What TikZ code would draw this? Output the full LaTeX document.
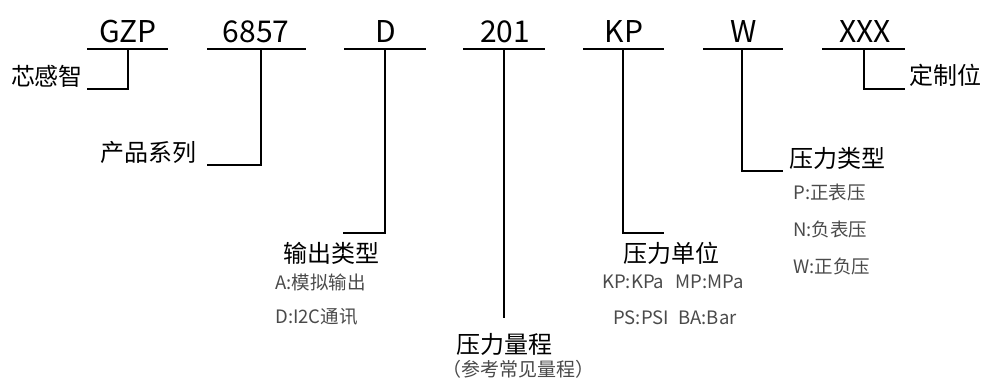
\documentclass[tikz,border=0pt]{standalone}
\usepackage{fontspec}
\setmainfont{Noto Sans CJK SC}
\definecolor{subgray}{HTML}{4A4A4A}
\begin{document}
\begin{tikzpicture}[x=1pt,y=-1pt,line width=2.6pt,
  code/.style={font=\fontsize{30}{30}\selectfont, anchor=base, inner sep=0pt},
  lab/.style={font=\fontsize{24}{24}\selectfont, inner sep=0pt},
  sub/.style={font=\fontsize{18.5}{18.5}\selectfont, text=subgray, inner sep=0pt, anchor=west},
  note/.style={font=\fontsize{19}{19}\selectfont, text=subgray, inner sep=0pt}]
\useasboundingbox (0,0) rectangle (986,378);
% codes
\node[code] (c1) at (128,42) {GZP};
\node[code] (c2) at (256,42) {6857};
\node[code] (c3) at (386,42) {D};
\node[code] (c4) at (505,42) {201};
\node[code] (c5) at (624,42) {KP};
\node[code] (c6) at (744,42) {W};
\node[code] (c7) at (865,42) {XXX};
% underline endpoints and junctions
\coordinate (u1a) at (87,49);  \coordinate (u1b) at (168,49); \coordinate (j1) at (128,49);
\coordinate (u2a) at (207,49); \coordinate (u2b) at (306,49); \coordinate (j2) at (261,49);
\coordinate (u3a) at (344,49); \coordinate (u3b) at (426,49); \coordinate (j3) at (385,49);
\coordinate (u4a) at (463,49); \coordinate (u4b) at (545,49); \coordinate (j4) at (504,49);
\coordinate (u5a) at (583,49); \coordinate (u5b) at (664,49); \coordinate (j5) at (623,49);
\coordinate (u6a) at (703,49); \coordinate (u6b) at (783,49); \coordinate (j6) at (742,49);
\coordinate (u7a) at (822,49); \coordinate (u7b) at (905,49); \coordinate (j7) at (864,49);
\foreach \i in {1,...,7} {\draw (u\i a) -- (u\i b);}
% labels
\node[lab] (l1) at (47,76) {芯感智};
\node[lab] (l2) at (148,152) {产品系列};
\node[lab] (l3) at (331,253) {输出类型};
\node[lab] (l4) at (504,344) {压力量程};
\node[note] (n4) at (518,369) {（参考常见量程）};
\node[lab] (l5) at (671,253) {压力单位};
\node[lab] (l6) at (837,158) {压力类型};
\node[lab] (l7) at (945,75) {定制位};
% sub items
\node[sub] (s3a) at (274,282) {A:模拟输出};
\node[sub] (s3b) at (274,317) {D:I2C通讯};
\node[sub] (s5a) at (601,282) {KP:KPa};
\node[sub] (s5b) at (674,282) {MP:MPa};
\node[sub] (s5c) at (612,318) {PS:PSI};
\node[sub] (s5d) at (677,318) {BA:Bar};
\node[sub] (s6a) at (792,192) {P:正表压};
\node[sub] (s6b) at (792,229) {N:负表压};
\node[sub] (s6c) at (792,266) {W:正负压};
% connectors
\coordinate (e1) at (87,89);
\coordinate (e2) at (207,165);
\coordinate (e3) at (343,233);
\coordinate (e4) at (504,318);
\coordinate (e5) at (664,233);
\coordinate (e6) at (783,171);
\coordinate (e7) at (905,89);
\draw (j1) |- (e1);
\draw (j2) |- (e2);
\draw (j3) |- (e3);
\draw (j4) -- (e4);
\draw (j5) |- (e5);
\draw (j6) |- (e6);
\draw (j7) |- (e7);
\end{tikzpicture}
\end{document}
